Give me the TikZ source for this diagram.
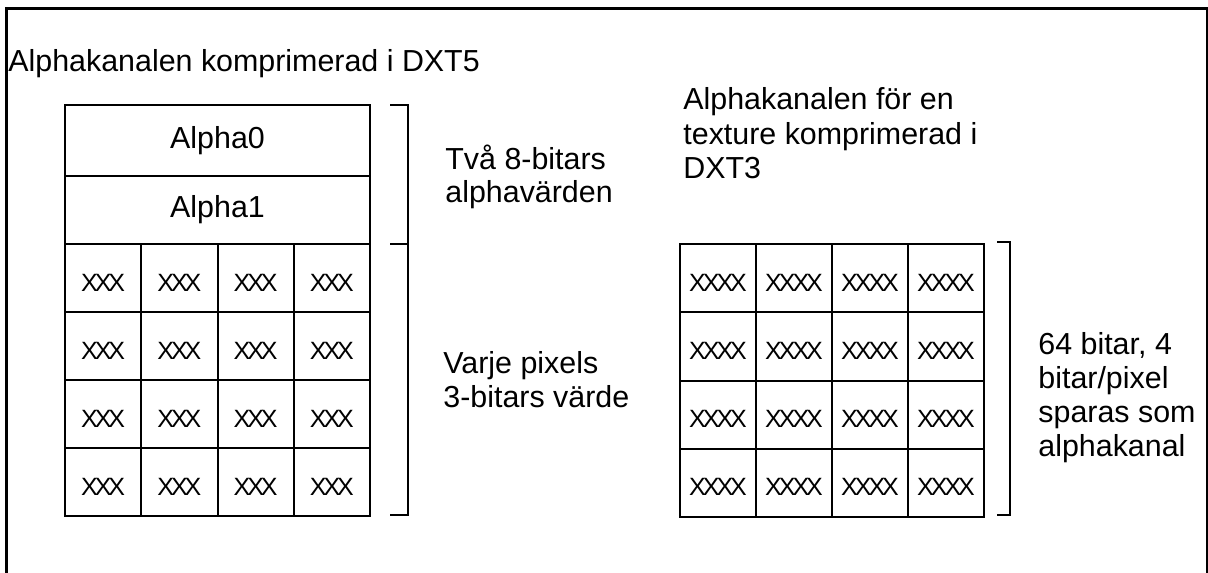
\documentclass[tikz,border=0pt]{standalone}
\usepackage{fontspec}
\setmainfont{Liberation Sans}
\usetikzlibrary{calc}
% tightly set runs of X used as placeholders for the bit fields
\newcommand\xthree{X\kern-1.5pt\relax X\kern-1.5pt\relax X}
\newcommand\xfour{X\kern-1.5pt\relax X\kern-1.5pt\relax X\kern-1.5pt\relax X}
\begin{document}
\begin{tikzpicture}[x=0.5pt,y=-0.5pt,
  txt/.style={font=\fontsize{15.2}{17}\selectfont, inner sep=0pt, align=left},
  box/.style={draw, line width=1pt, inner sep=0pt, outer sep=0pt,
    font=\fontsize{15.2}{17}\selectfont},
  cell/.style={draw, line width=1pt, inner sep=0pt, outer sep=0pt,
    text height=13pt, text depth=0pt, font=\fontsize{12.5}{14}\selectfont},
  lcell/.style={cell, minimum width=38.125pt, minimum height=34pt},
  rcell/.style={cell, minimum width=38pt, minimum height=34.125pt},
  brack/.style={draw, line width=1pt},
  frame/.style={draw, line width=1.5pt}]
\useasboundingbox (0,0) rectangle (1208,572);
\clip (0,0) rectangle (1208,572);

% outer frame, open towards the bottom
\draw[frame] (6,600) -- (6,9) -- (1207,9) -- (1207,600);

% DXT5 block: two alpha reference values and the 4x4 index table
% (multi-line labels are anchored on the baseline of their last line)
\node[txt, anchor=base west] (title5) at (8,72) {Alphakanalen komprimerad i DXT5};
\node[box, minimum width=152.5pt, minimum height=35.5pt] (a0) at (217.5,140.5) {Alpha0\hspace{12pt}};
\node[box, minimum width=152.5pt, minimum height=34pt] (a1) at (217.5,210) {Alpha1\hspace{8pt}};
\foreach \r in {0,...,3}
  \foreach \c in {0,...,3}
    \node[lcell] (L\r\c) at ({65+76.25*(\c+0.5)},{244+68*(\r+0.5)}) {\xthree};

\draw[brack] (390,105) -- (408,105) -- (408,515) -- (390,515);
\draw[brack] (390,244) -- (408,244);
\node[txt, anchor=base west] (two) at (445,203) {Två 8-bitars\\alphavärden};
\node[txt, anchor=base west] (each) at (443,407) {Varje pixels\\3-bitars värde};

% DXT3 block: explicit 4-bit alpha per pixel
\node[txt, anchor=base west] (title3) at (683,178) {Alphakanalen för en\\texture komprimerad i\\DXT3};
\foreach \r in {0,...,3}
  \foreach \c in {0,...,3}
    \node[rcell] (R\r\c) at ({680+76*(\c+0.5)},{244+68.25*(\r+0.5)}) {\xfour};

\draw[brack] (997,242) -- (1010,242) -- (1010,515) -- (997,515);
\node[txt, anchor=base west] (bits) at (1038,456) {64 bitar, 4\\bitar/pixel\\sparas som\\alphakanal};
\end{tikzpicture}
\end{document}
